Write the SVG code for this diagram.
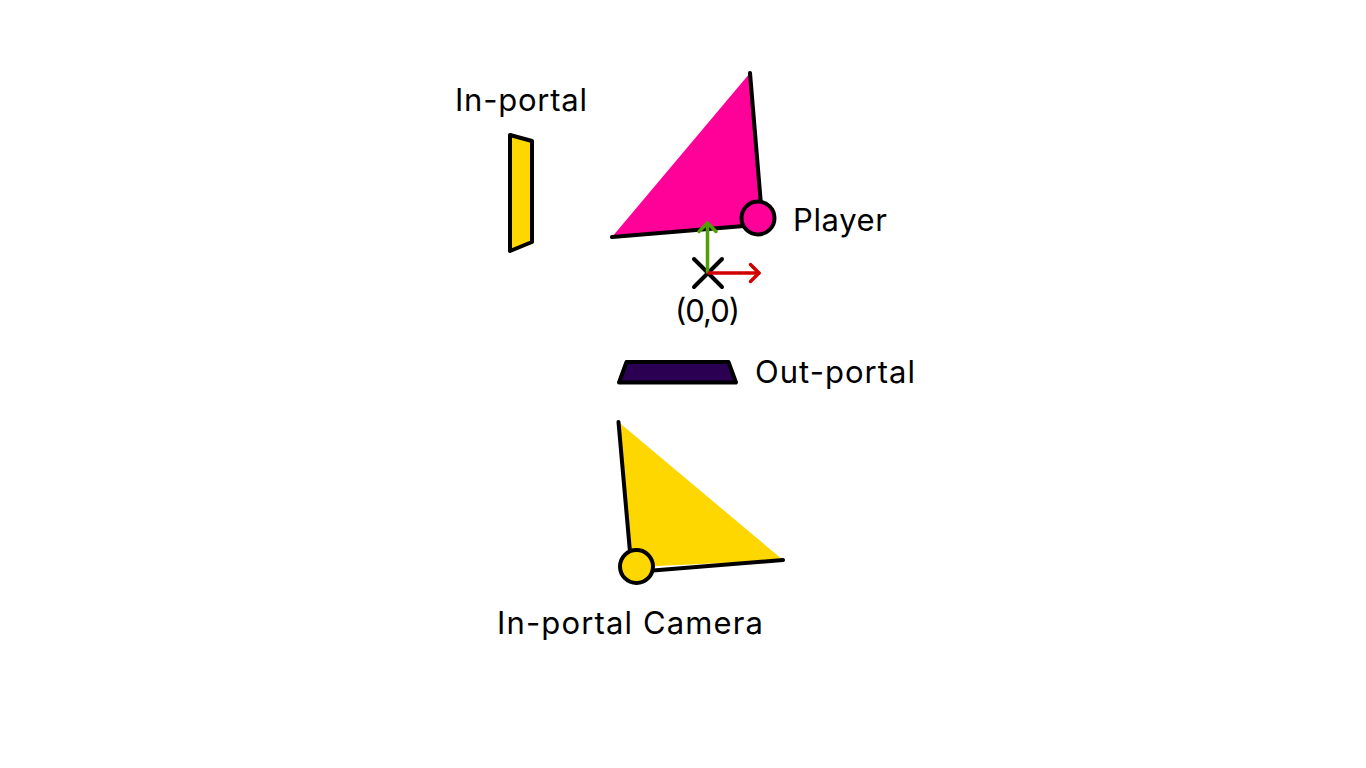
<svg xmlns="http://www.w3.org/2000/svg" width="1366" height="768" viewBox="0 0 1366 768">
<style>
.lbl{font-family:Inter,"Noto Sans","Liberation Sans",sans-serif;font-size:31px;fill:#000}
.edge{fill:none;stroke:#000;stroke-width:4;stroke-linecap:round;stroke-linejoin:round}
.outl{stroke:#000;stroke-width:4;stroke-linejoin:round}
</style>
<rect width="1366" height="768" fill="#fff"/>
<g id="player">
<polygon points="750,73 762.5,224 612,237" fill="#ff0099"/>
<polyline class="edge" points="750,73 761,205"/>
<polyline class="edge" points="612,237 744,226"/>
<circle cx="758" cy="218" r="16.5" fill="#ff0099" stroke="#000" stroke-width="4"/>
<text class="lbl" x="793" y="231" textLength="94" lengthAdjust="spacing">Player</text>
</g>
<g id="in-portal">
<polygon class="outl" points="510,135 532,141 532,242 510,251" fill="#ffd700"/>
<text class="lbl" x="455" y="111" textLength="132" lengthAdjust="spacing">In-portal</text>
</g>
<g id="origin">
<line class="edge" x1="694" y1="259" x2="722" y2="287" stroke-width="3.5"/>
<line class="edge" x1="722" y1="259" x2="694" y2="287" stroke-width="3.5"/>
<text class="lbl" x="675" y="322" textLength="65" lengthAdjust="spacing">(0,0)</text>
</g>
<g id="connectors">
<g fill="none" stroke-width="3.5" stroke-linecap="round" stroke-linejoin="round">
<line x1="707.5" y1="272" x2="707.5" y2="223" stroke="#4ea100"/>
<polyline points="699,231.5 707.5,223 716,231.5" stroke="#4ea100"/>
<line x1="709" y1="273" x2="759" y2="273" stroke="#d00000"/>
<polyline points="750.5,264.5 759,273 750.5,281.5" stroke="#d00000"/>
</g>
</g>
<g id="out-portal">
<polygon class="outl" points="626.5,362 728.5,362 736,382.5 619,382.5" fill="#2b0052"/>
<text class="lbl" x="755" y="383" textLength="160" lengthAdjust="spacing">Out-portal</text>
</g>
<g id="camera">
<polygon points="618.5,422 783,560 636.5,567 631.5,560" fill="#ffd700"/>
<polyline class="edge" points="618.5,422 630,552"/>
<polyline class="edge" points="653,570.5 783,560"/>
<circle cx="636.5" cy="566.5" r="16.5" fill="#ffd700" stroke="#000" stroke-width="4"/>
<text class="lbl" x="497" y="634" textLength="266" lengthAdjust="spacing">In-portal Camera</text>
</g>
</svg>
